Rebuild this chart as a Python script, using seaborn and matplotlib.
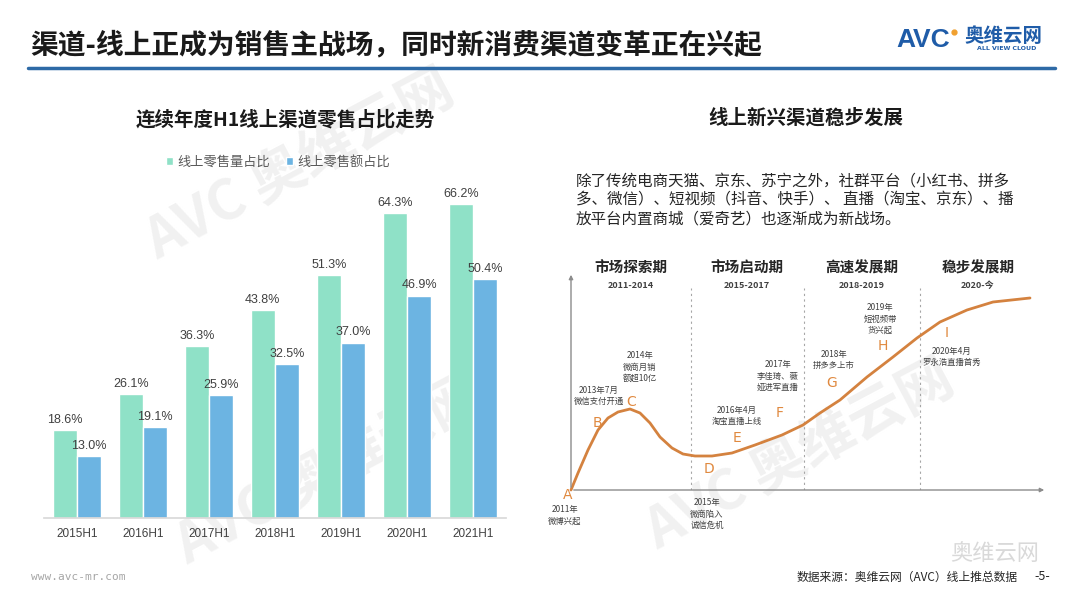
import pandas as pd
import matplotlib.pyplot as plt
import seaborn as sns
from matplotlib.lines import Line2D

# bar chart data
periods = ['2015H1', '2016H1', '2017H1', '2018H1', '2019H1', '2020H1', '2021H1']
volume_share = [18.6, 26.1, 36.3, 43.8, 51.3, 64.3, 66.2]
value_share = [13.0, 19.1, 25.9, 32.5, 37.0, 46.9, 50.4]
series_names = ['线上零售量占比', '线上零售额占比']

# development curve (diagram units)
curve_x = [0, 7, 17, 27, 37, 47, 59, 69, 79, 89, 101, 112, 124, 141, 161, 184,
           211, 232, 249, 269, 296, 322, 346, 369, 396, 422, 459]
curve_y = [0, 17, 40, 60, 72, 78, 81, 77, 67, 53, 42, 36, 34, 34, 37, 45,
           55, 65, 77, 90, 113, 133, 152, 168, 180, 188, 192]

phase_names = ['市场探索期', '市场启动期', '高速发展期', '稳步发展期']
phase_years = ['2011-2014', '2015-2017', '2018-2019', '2020-今']
phase_bounds = [120, 233, 349]

point_letters = ['A', 'B', 'C', 'D', 'E', 'F', 'G', 'H', 'I']
point_notes = ['2011年\n微博兴起', '2013年7月\n微信支付开通', '2014年\n微商月销\n额超10亿',
               '2015年\n微商陷入\n诚信危机', '2016年4月\n淘宝直播上线', '2017年\n李佳琦、薇\n娅进军直播',
               '2018年\n拼多多上市', '2019年\n短视频带\n货兴起', '2020年4月\n罗永浩直播首秀']

W, H = 1080, 608


def fx(px):
    return px / W


def fy(py):
    return 1 - py / H


def main():
    sns.set_theme(style="white")
    plt.rcParams['font.family'] = ['Noto Sans CJK SC', 'DejaVu Sans']

    fig = plt.figure(figsize=(10.8, 6.08), dpi=100)
    fig.patch.set_facecolor('white')

    # faint background watermarks, kept behind everything
    ax_bg = fig.add_axes([0, 0, 1, 1], zorder=-1)
    ax_bg.set_xlim(0, W)
    ax_bg.set_ylim(H, 0)
    ax_bg.axis('off')
    for (x, y) in [(300, 165), (330, 470), (800, 455)]:
        ax_bg.text(x, y, 'AVC 奥维云网', fontsize=40, fontweight='bold', color='#f1f1f1',
                   rotation=28, ha='center', va='center')

    # header
    fig.text(fx(30), fy(45), '渠道-线上正成为销售主战场，同时新消费渠道变革正在兴起',
             fontsize=20, fontweight='bold', color='#1a1a1a', va='center', ha='left')
    fig.add_artist(Line2D([fx(28), fx(1055)], [fy(68), fy(68)], color='#2e6aa6', lw=2.5,
                          transform=fig.transFigure))
    fig.text(fx(896), fy(40), 'AVC', fontsize=19, fontweight='bold',
             color='#1f5ca8', family='Liberation Sans', va='center', ha='left')
    fig.add_artist(Line2D([fx(954)], [fy(32)], marker='o', ms=3.5, color='#f0a030',
                          transform=fig.transFigure))
    fig.text(fx(964), fy(36), '奥维云网', fontsize=14, fontweight='bold', color='#1f5ca8',
             va='center', ha='left')
    fig.text(fx(1007), fy(48), 'ALL VIEW CLOUD', fontsize=4.5, fontweight='bold',
             color='#1f5ca8', va='center', ha='center', family='DejaVu Sans')

    # left: bar chart
    fig.text(fx(285), fy(120), '连续年度H1线上渠道零售占比走势', fontsize=14, fontweight='bold',
             color='#1a1a1a', ha='center', va='center')

    df = pd.DataFrame({
        'period': periods * 2,
        'share': volume_share + value_share,
        'metric': [series_names[0]] * len(periods) + [series_names[1]] * len(periods),
    })
    ax1 = fig.add_axes([fx(44), fy(518), fx(506) - fx(44), fy(186) - fy(518)])
    ax1.patch.set_alpha(0)
    sns.barplot(data=df, x='period', y='share', hue='metric', palette=['#8fe1c7', '#6cb4e2'],
                width=0.74, saturation=1, ax=ax1)
    ax1.set_xlim(-0.5, 6.5)
    ax1.set_ylim(0, 70)
    ax1.set_xlabel('')
    ax1.set_ylabel('')
    ax1.set_yticks([])
    for s in ['top', 'right', 'left']:
        ax1.spines[s].set_visible(False)
    ax1.spines['bottom'].set_color('#d9d9d9')
    ax1.tick_params(axis='x', length=0, pad=7, labelsize=8.5, labelcolor='#404040')
    for lab in ax1.get_xticklabels():
        lab.set_family('Liberation Sans')
    for cont, vals in zip(ax1.containers, [volume_share, value_share]):
        ax1.bar_label(cont, labels=[f'{v:.1f}%' for v in vals], padding=3, fontsize=9,
                      color='#404040', family='Liberation Sans')
    handles, labels = ax1.get_legend_handles_labels()
    ax1.legend(handles, labels, loc='center', bbox_to_anchor=(fx(278), fy(162)),
               bbox_transform=fig.transFigure, ncol=2, frameon=False, handlelength=0.55,
               handleheight=0.55, handletextpad=0.3, columnspacing=1.2, fontsize=9.5,
               labelcolor='#595959')

    # right: text and diagram
    fig.text(fx(806), fy(118), '线上新兴渠道稳步发展', fontsize=14, fontweight='bold',
             color='#1a1a1a', ha='center', va='center')
    para = ('除了传统电商天猫、京东、苏宁之外，社群平台（小红书、拼多\n'
            '多、微信）、短视频（抖音、快手）、 直播（淘宝、京东）、播\n'
            '放平台内置商城（爱奇艺）也逐渐成为新战场。')
    fig.text(fx(576), fy(173), para, fontsize=11.2, color='#262626', ha='left', va='top',
             linespacing=1.15)

    ax2 = fig.add_axes([fx(571), fy(490), fx(1047) - fx(571), fy(265) - fy(490)])
    ax2.patch.set_alpha(0)
    ax2.set_xlim(0, 476)
    ax2.set_ylim(0, 225)
    ax2.axis('off')
    ax2.annotate('', xy=(0, 218), xytext=(0, 0), annotation_clip=False,
                 arrowprops=dict(arrowstyle='-|>', color='#8c8c8c', lw=1, mutation_scale=6))
    ax2.annotate('', xy=(476, 0), xytext=(0, 0), annotation_clip=False,
                 arrowprops=dict(arrowstyle='-|>', color='#8c8c8c', lw=1, mutation_scale=6))
    ax2.vlines(phase_bounds, 0, 202, linestyles=(0, (2, 3)), colors='#a6a6a6', lw=0.8)
    sns.lineplot(x=curve_x, y=curve_y, ax=ax2, color='#d4823f', lw=2)
    for line in ax2.lines:
        line.set_clip_on(False)

    phase_centers = [60, 176, 291, 407]
    for cx, name, yr in zip(phase_centers, phase_names, phase_years):
        ax2.text(cx, 222, name, fontsize=10.5, fontweight='bold', color='#262626',
                 ha='center', va='center', clip_on=False)
        ax2.text(cx, 205, yr, fontsize=6.5, fontweight='bold', color='#404040',
                 ha='center', va='center', clip_on=False)

    letter_pos = [(-3, -5), (26, 67), (60, 88), (138, 21), (166, 52), (209, 77),
                  (261, 107), (312, 144), (376, 157)]
    note_pos = [(-6, -25), (28, 94), (69, 123), (136, -24), (166, 74), (207, 114),
                (263, 130), (309, 171), (381, 133)]
    for (lx, ly), letter in zip(letter_pos, point_letters):
        ax2.text(lx, ly, letter, fontsize=10, color='#e0893f', ha='center', va='center',
                 clip_on=False, family='DejaVu Sans')
    for (nx, ny), note in zip(note_pos, point_notes):
        ax2.text(nx, ny, note, fontsize=6, color='#404040', ha='center', va='center',
                 linespacing=1.35, clip_on=False)

    # footer
    fig.text(fx(31), fy(577), 'www.avc-mr.com', fontsize=8, color='#a6a6a6',
             family='DejaVu Sans Mono', ha='left', va='center')
    fig.text(fx(995), fy(553), '奥维云网', fontsize=16, color='#d9d9d9', ha='center', va='center')
    fig.text(fx(1018), fy(577), '数据来源：奥维云网（AVC）线上推总数据', fontsize=8.5,
             color='#262626', ha='right', va='center')
    fig.text(fx(1042), fy(577), '-5-', fontsize=9, color='#262626', ha='center', va='center')

    fig.savefig('out.png', dpi=100)
    plt.close(fig)


if __name__ == '__main__':
    main()
